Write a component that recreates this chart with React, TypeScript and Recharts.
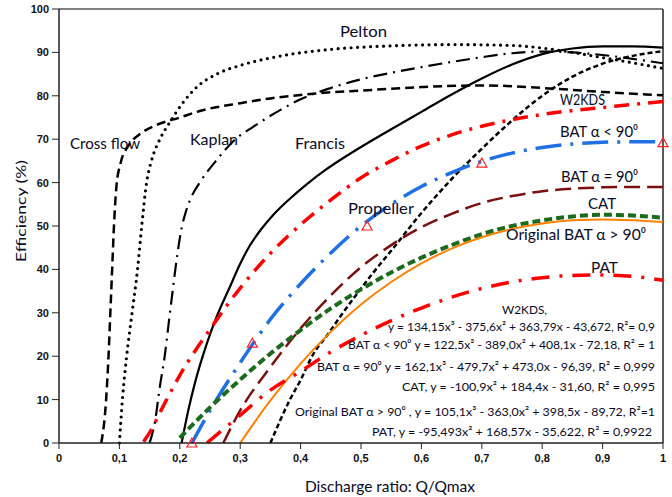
import React from "react";
import {
  ComposedChart,
  Line,
  Scatter,
  XAxis,
  YAxis,
  ReferenceLine,
} from "recharts";

// [discharge ratio, efficiency %]
const crossFlow = [
  [0.07, 0], [0.078, 10], [0.082, 20], [0.085, 30], [0.088, 40], [0.091, 50],
  [0.095, 59], [0.102, 64.5], [0.115, 68.5], [0.135, 71.3], [0.16, 73.2], [0.2, 75],
  [0.233, 76.5], [0.3, 78.3], [0.35, 79.4], [0.4, 80.2], [0.45, 80.8], [0.5, 81.2],
  [0.6, 82], [0.7, 82.4], [0.8, 81.8], [0.9, 80.9], [1.0, 80.1],
];
const pelton = [
  [0.1, 0], [0.105, 10], [0.112, 20], [0.121, 30], [0.13, 40], [0.137, 50],
  [0.145, 60], [0.153, 65], [0.167, 70], [0.184, 74], [0.203, 78], [0.228, 82],
  [0.261, 85], [0.3, 87], [0.36, 89], [0.45, 90.7], [0.55, 91.5], [0.65, 91.8],
  [0.75, 91.6], [0.8, 91], [0.85, 90], [0.9, 88.8], [0.95, 87.6], [1.0, 86.3],
];
const kaplan = [
  [0.15, 0], [0.159, 5], [0.167, 13], [0.175, 20], [0.182, 28], [0.189, 36],
  [0.196, 43.5], [0.203, 49.5], [0.21, 53.3], [0.217, 56], [0.236, 60.6],
  [0.261, 65.2], [0.289, 69.6], [0.322, 72.9], [0.366, 76.7], [0.4, 79.2],
  [0.45, 81.8], [0.5, 83.8], [0.55, 85.3], [0.6, 86.6], [0.65, 87.8], [0.7, 88.9],
  [0.75, 89.8], [0.8, 90.2], [0.85, 90], [0.9, 89.4], [0.95, 88.5], [1.0, 87.5],
];
const francis = [
  [0.203, 0], [0.214, 7.5], [0.225, 13.8], [0.245, 23], [0.261, 29.1], [0.283, 36],
  [0.3, 41.3], [0.316, 45.5], [0.335, 49.3], [0.355, 52.6], [0.38, 56], [0.41, 59.6],
  [0.44, 62.8], [0.47, 65.6], [0.5, 68.2], [0.55, 72.3], [0.6, 76.3], [0.65, 80.3],
  [0.7, 84], [0.75, 87.2], [0.8, 89.6], [0.85, 90.9], [0.9, 91.4], [0.95, 91.4],
  [1.0, 91.1],
];
const propeller = [
  [0.35, 0], [0.382, 9.9], [0.4, 14.5], [0.421, 20.5], [0.445, 25], [0.465, 29],
  [0.493, 34.3], [0.52, 39.2], [0.55, 44.3], [0.6, 53], [0.65, 60.8], [0.7, 67.8],
  [0.75, 74.3], [0.8, 80], [0.85, 84.4], [0.9, 87.4], [0.95, 89.2], [1.0, 90.3],
];
const w2kds = [
  [0.14, 0.3], [0.151, 2.6], [0.173, 8.6], [0.2, 15.6], [0.25, 26.2], [0.3, 35.7],
  [0.35, 43.7], [0.4, 50.3], [0.45, 56], [0.5, 61.1], [0.55, 65], [0.6, 68.4],
  [0.65, 71], [0.7, 73], [0.75, 74.5], [0.8, 75.7], [0.85, 76.6], [0.9, 77.3],
  [0.95, 78], [1.0, 78.7],
];
const batBelow90 = [
  [0.22, 0], [0.25, 7.5], [0.3, 18.5], [0.35, 28.5], [0.4, 36.7], [0.45, 43.8],
  [0.5, 50], [0.55, 55], [0.6, 59.1], [0.65, 62.3], [0.7, 64.9], [0.75, 66.8],
  [0.8, 68.1], [0.85, 68.9], [0.9, 69.3], [0.95, 69.4], [1.0, 69.4],
];
const batAt90 = [
  [0.272, 0], [0.3, 7.5], [0.35, 17.5], [0.4, 26.4], [0.45, 34], [0.5, 40.5],
  [0.55, 45.6], [0.6, 49.7], [0.65, 52.8], [0.7, 55.3], [0.75, 56.9], [0.8, 58],
  [0.85, 58.6], [0.9, 58.9], [0.95, 59], [1.0, 59],
];
const cat = [
  [0.2, 1.2], [0.25, 8.2], [0.3, 14.6], [0.35, 20.6], [0.4, 26], [0.45, 31],
  [0.5, 35.4], [0.55, 39.3], [0.6, 42.7], [0.65, 45.6], [0.7, 48.1], [0.75, 50],
  [0.8, 51.3], [0.85, 52.2], [0.9, 52.6], [0.95, 52.4], [1.0, 51.9],
];
const originalBat = [
  [0.3, 0], [0.35, 9.8], [0.4, 18.3], [0.45, 25.6], [0.5, 31.9], [0.55, 37.1],
  [0.6, 41.4], [0.65, 44.8], [0.7, 47.4], [0.75, 49.3], [0.8, 50.6], [0.85, 51.3],
  [0.9, 51.5], [0.95, 51.3], [1.0, 50.9],
];
const pat = [
  [0.245, 0], [0.3, 6.4], [0.35, 12.2], [0.4, 16.5], [0.45, 21], [0.5, 24.8],
  [0.55, 28.2], [0.6, 31.1], [0.65, 33.6], [0.7, 35.6], [0.75, 37.1], [0.8, 38.1],
  [0.85, 38.6], [0.9, 38.7], [0.95, 38.4], [1.0, 37.5],
];
// measured points (red triangles)
const measured = [[0.22, 0], [0.32, 23], [0.51, 50], [0.7, 64.5], [1.0, 69.2]];

const xTicks = [0, 0.1, 0.2, 0.3, 0.4, 0.5, 0.6, 0.7, 0.8, 0.9, 1];
const yTicks = [0, 10, 20, 30, 40, 50, 60, 70, 80, 90, 100];

const toRows = (pts: number[][]) => pts.map(([x, y]) => ({ x, y }));

const series = [
  { name: "Cross flow", pts: crossFlow, color: "#000", width: 2.5, dash: "9 5" },
  { name: "Pelton", pts: pelton, color: "#000", width: 3.2, dash: "0 6.5", cap: "round" },
  { name: "Kaplan", pts: kaplan, color: "#000", width: 2.2, dash: "14 6 2 6" },
  { name: "Francis", pts: francis, color: "#000", width: 2.2 },
  { name: "Propeller", pts: propeller, color: "#000", width: 2.5, dash: "5 3" },
  { name: "W2KDS", pts: w2kds, color: "#ff0000", width: 3.5, dash: "15 8 3 8" },
  { name: "BAT<90", pts: batBelow90, color: "#1f6fe5", width: 3.5, dash: "26 9 3 9" },
  { name: "BAT=90", pts: batAt90, color: "#7a1010", width: 2.5, dash: "16 7" },
  { name: "CAT", pts: cat, color: "#1c6a1c", width: 4, dash: "8 4" },
  { name: "Original BAT", pts: originalBat, color: "#ff8000", width: 2 },
  { name: "PAT", pts: pat, color: "#ff0000", width: 3.5, dash: "18 10 3 10" },
];

const LABEL_FONT = "Lato, 'Open Sans', sans-serif";
const INK = "#0a0a26";

const Triangle = (props: any) => {
  const { cx, cy } = props;
  if (cx == null || cy == null) return null;
  return (
    <polygon
      points={`${cx},${cy - 5} ${cx - 5},${cy + 4} ${cx + 5},${cy + 4}`}
      fill="none"
      stroke="#ff2020"
      strokeWidth={1.2}
    />
  );
};

// x = right end of the text
const curveLabels = [
  { text: "Cross flow", x: 140, y: 149, w: 70 },
  { text: "Kaplan", x: 238, y: 145, w: 48 },
  { text: "Francis", x: 345, y: 149, w: 50 },
  { text: "Pelton", x: 387, y: 37, w: 47 },
  { text: "Propeller", x: 414, y: 214, w: 66 },
  { text: "W2KDS", x: 605, y: 105, w: 45 },
  { text: "BAT \u03b1 < 90\u2070", x: 638, y: 137, w: 78 },
  { text: "BAT \u03b1 = 90\u2070", x: 638, y: 182, w: 77 },
  { text: "CAT", x: 616, y: 209, w: 28 },
  { text: "Original BAT  \u03b1 > 90\u2070", x: 646, y: 240, w: 140 },
  { text: "PAT", x: 618, y: 273, w: 27 },
];

const equations = [
  { text: "W2KDS,", x: 547, y: 314, w: 45 },
  { text: "y = 134,15x\u00b3 - 375,6x\u00b2 + 363,79x - 43,672, R\u00b2= 0,9", x: 655, y: 331, w: 267 },
  { text: "BAT \u03b1 < 90\u2070 y = 122,5x\u00b3 - 389,0x\u00b2 + 408,1x - 72,18, R\u00b2 = 1", x: 655, y: 349, w: 307 },
  { text: "BAT \u03b1 = 90\u2070  y = 162,1x\u00b3 - 479,7x\u00b2 + 473,0x - 96,39, R\u00b2 = 0,999", x: 655, y: 371, w: 338 },
  { text: "CAT,  y = -100,9x\u00b2 + 184,4x - 31,60, R\u00b2 = 0,995", x: 655, y: 391, w: 253 },
  { text: "Original BAT \u03b1 > 90\u2070 , y = 105,1x\u00b3 - 363,0x\u00b2 + 398,5x - 89,72, R\u00b2=1", x: 655, y: 416, w: 360 },
  { text: "PAT,  y = -95,493x\u00b2 + 168,57x - 35,622, R\u00b2 = 0,9922", x: 652, y: 436, w: 280 },
];

export default function App() {
  return (
    <div style={{ position: "absolute", left: 0, top: 0, width: 672, height: 497, background: "#fff" }}>
      <ComposedChart
        width={672}
        height={497}
        margin={{ top: 9, right: 9, bottom: 0, left: 0 }}
      >
        <XAxis
          type="number"
          dataKey="x"
          domain={[0, 1]}
          ticks={xTicks}
          height={54}
          tickSize={6}
          tickMargin={5}
          tickFormatter={(v: number) => String(v).replace(".", ",")}
          axisLine={{ stroke: "#222", strokeWidth: 1.5 }}
          tickLine={{ stroke: "#222" }}
          tick={{ fill: "#111", fontSize: 11, fontWeight: 700, fontFamily: "'Liberation Sans', Arial" }}
          allowDuplicatedCategory={false}
        />
        <YAxis
          type="number"
          dataKey="y"
          domain={[0, 100]}
          ticks={yTicks}
          width={59}
          tickSize={7}
          tickMargin={3}
          axisLine={{ stroke: "#222", strokeWidth: 1.5 }}
          tickLine={{ stroke: "#222" }}
          tick={{ fill: "#111", fontSize: 11, fontWeight: 700, fontFamily: "'Liberation Sans', Arial" }}
        />
        <ReferenceLine y={100} stroke="#808080" strokeWidth={2} />
        <ReferenceLine x={1} stroke="#222" strokeWidth={1.5} />
        {series.map((s) => (
          <Line
            key={s.name}
            data={toRows(s.pts)}
            dataKey="y"
            type="monotone"
            stroke={s.color}
            strokeWidth={s.width}
            strokeDasharray={s.dash}
            strokeLinecap={(s.cap as any) || "butt"}
            dot={false}
            activeDot={false}
            isAnimationActive={false}
          />
        ))}
        <Scatter
          data={toRows(measured)}
          dataKey="y"
          shape={<Triangle />}
          isAnimationActive={false}
        />
      </ComposedChart>
      <svg
        width={672}
        height={497}
        style={{ position: "absolute", left: 0, top: 0, pointerEvents: "none" }}
      >
        {curveLabels.map((l) => (
          <text
            key={l.text}
            x={l.x}
            y={l.y}
            textAnchor="end"
            fontFamily={LABEL_FONT}
            fontSize={15}
            fill={INK}
            textLength={l.w}
            lengthAdjust="spacingAndGlyphs"
          >
            {l.text}
          </text>
        ))}
        {equations.map((l) => (
          <text
            key={l.text}
            x={l.x}
            y={l.y}
            textAnchor="end"
            fontFamily={LABEL_FONT}
            fontSize={12}
            fill={INK}
            textLength={l.w}
            lengthAdjust="spacingAndGlyphs"
          >
            {l.text}
          </text>
        ))}
        <text
          x={305}
          y={492}
          fontFamily={LABEL_FONT}
          fontSize={15}
          fill={INK}
          textLength={170}
          lengthAdjust="spacingAndGlyphs"
        >
          Discharge ratio: Q/Qmax
        </text>
        <text
          transform="translate(26,262) rotate(-90)"
          fontFamily={LABEL_FONT}
          fontSize={14}
          fill={INK}
          textLength={102}
          lengthAdjust="spacingAndGlyphs"
        >
          Efficiency (%)
        </text>
      </svg>
    </div>
  );
}
